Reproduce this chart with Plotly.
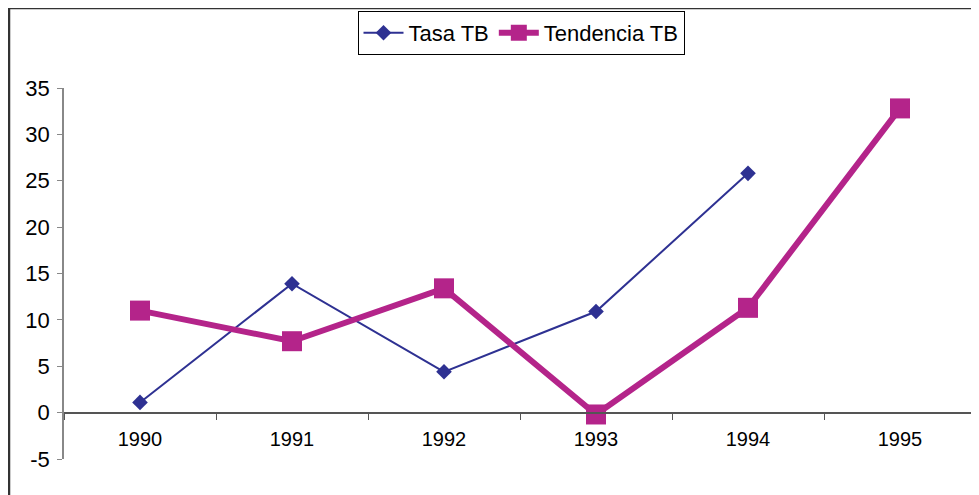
import plotly.graph_objects as go

years = ["1990", "1991", "1992", "1993", "1994", "1995"]
tasa_tb = [1.1, 13.9, 4.4, 10.9, 25.8, None]
tendencia_tb = [11.0, 7.7, 13.4, -0.2, 11.3, 32.8]
y_ticks = [-5, 0, 5, 10, 15, 20, 25, 30, 35]
y_tick_labels = [str(v) for v in y_ticks]

fig = go.Figure()
fig.add_trace(go.Scatter(
    x=years, y=tasa_tb, name="Tasa TB", mode="lines+markers",
    line=dict(color="#2E3192", width=2),
    marker=dict(symbol="diamond", size=12, color="#2E3192"),
))
fig.add_trace(go.Scatter(
    x=years, y=tendencia_tb, name="Tendencia TB", mode="lines+markers",
    line=dict(color="#B4248A", width=6),
    marker=dict(symbol="square", size=20, color="#B4248A"),
))

# page body has an 8px margin, so figure coords = page coords - 8
OFF = 8
W, H = 979 - OFF, 495 - OFF
L = 64 - OFF
T = 88 - OFF
PB = 459 - OFF  # plot bottom in figure coords
PR = 976 - OFF  # plot right in figure coords
R = W - PR
B = H - PB
ph = PB - T
pw = PR - L
y0_pos = (459 - 413) / ph

fig.update_layout(
    width=W, height=H,
    margin=dict(l=L, r=R, t=T, b=B),
    paper_bgcolor="white", plot_bgcolor="white",
    font=dict(family="Liberation Sans, Arial, sans-serif", size=20, color="black"),
    showlegend=True,
    legend=dict(
        orientation="h", x=(521 - 64) / pw, xanchor="center",
        y=(459 - 33) / ph, yanchor="middle",
        bordercolor="black", borderwidth=1, bgcolor="white",
        font=dict(size=22), itemwidth=40, tracegroupgap=0,
    ),
    xaxis=dict(
        type="category", range=[-0.5, 5.5],
        anchor="free", position=y0_pos,
        showline=True, linecolor="#555", linewidth=1.5,
        ticks="outside", ticklen=6, tickcolor="#555", tickson="boundaries",
        showgrid=False, zeroline=False, ticklabelstandoff=8,
        tickfont=dict(size=20),
    ),
    yaxis=dict(
        range=[-5, 35], tickvals=y_ticks, ticktext=y_tick_labels,
        showline=True, linecolor="#888", linewidth=1.5,
        ticks="outside", ticklen=5, tickcolor="#888",
        showgrid=False, zeroline=False, ticklabelstandoff=3,
        tickfont=dict(size=22),
    ),
)

bx = (1 - L) / pw
by = (PB - 0) / ph
fig.add_shape(
    type="line", xref="paper", yref="paper",
    x0=bx, x1=bx, y0=by, y1=-0.2,
    line=dict(color="#333", width=2.5),
)
fig.add_shape(
    type="line", xref="paper", yref="paper",
    x0=bx, x1=1.1, y0=by, y1=by,
    line=dict(color="#333", width=2.5),
)

fig.write_html("out.html")
